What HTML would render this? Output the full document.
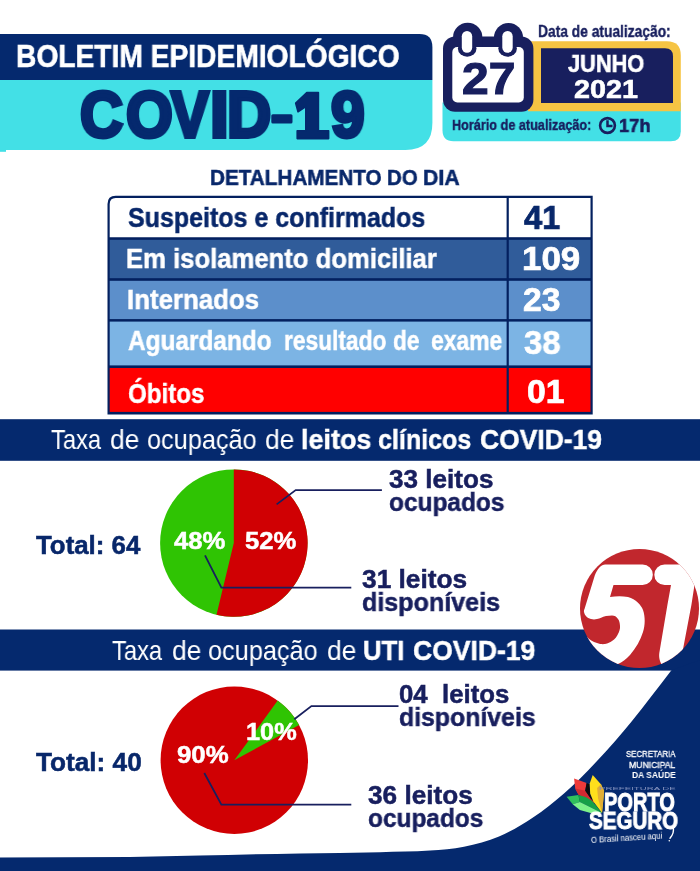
<!DOCTYPE html>
<html lang="pt-BR">
<head>
<meta charset="utf-8">
<title>Boletim Epidemiológico COVID-19</title>
<style>
html,body{margin:0;padding:0;background:#fff;}
body{width:700px;height:871px;position:relative;overflow:hidden;font-family:"Liberation Sans",sans-serif;}
#gfx{position:absolute;left:0;top:0;width:700px;height:871px;display:block;}
.t{position:absolute;white-space:nowrap;line-height:1;transform-origin:0 50%;font-family:"Liberation Sans",sans-serif;will-change:transform;}
</style>
</head>
<body>
<svg id="gfx" width="700" height="871" viewBox="0 0 700 871">
<defs>
<clipPath id="c51"><circle cx="639.5" cy="608.5" r="59.5"/></clipPath>
</defs>
<!-- header banner -->
<path d="M0 34 H419.5 Q432.4 34 432.4 47 V80 H0 Z" fill="#05296e"/>
<path d="M0 80 H432.4 V123 Q432.4 150 405.5 150 H0 Z" fill="#43e0e6"/>
<!-- COVID-19 dash and one -->
<rect x="271.3" y="114.2" width="21.2" height="9.4" rx="1.5" ry="1.5" fill="#05296e"/>
<path d="M318.4 92.5 L306.8 92.5 L295.7 103.2 L298 111.8 L305.8 106.5 L305.8 130.8 L297.2 130.8 L297.2 138.6 L328.6 138.6 L328.6 130.8 L318.4 130.8 Z" fill="#05296e" stroke="#05296e" stroke-width="1.6" stroke-linejoin="round"/>
<rect x="0" y="149" width="6" height="2.8" fill="#43e0e6"/>
<!-- date widget -->
<path d="M442.5 102.5 H680.8 V131.2 Q680.8 141.2 670.8 141.2 H453.5 Q442.5 141.2 442.5 130.2 Z" fill="#43e0e6"/>
<path d="M528 41.3 H666.8 Q680.8 41.3 680.8 55.3 V111.3 H528 Z" fill="#f6c443"/>
<path d="M541 48.2 H665 Q673 48.2 673 56.2 V102.9 H541 Z" fill="#181f5e"/>
<!-- calendar -->
<g fill="#181f5e">
<rect x="443" y="36.6" width="90.4" height="75.2" rx="12" ry="12"/>
<path d="M453 47 V37.5 A14.7 14.7 0 0 1 482.4 37.5 V47 Z"/>
<path d="M494 47 V37.5 A14.5 14.5 0 0 1 523 37.5 V47 Z"/>
</g>
<rect x="452.3" y="47" width="71.5" height="55.5" rx="5" ry="5" fill="#fff"/>
<g fill="#181f5e">
<rect x="457.9" y="40" width="18.6" height="16.8" rx="9.3" ry="8.4"/>
<rect x="498.3" y="40" width="18.6" height="16.8" rx="9.3" ry="8.4"/>
</g>
<g fill="#fff">
<rect x="461.8" y="31" width="10.4" height="21.8" rx="5.2" ry="5.2"/>
<rect x="502.3" y="31" width="10.4" height="21.8" rx="5.2" ry="5.2"/>
</g>
<!-- clock -->
<circle cx="607.5" cy="125.5" r="7.4" fill="none" stroke="#181f5e" stroke-width="2.6"/>
<path d="M607.5 120.3 V126 H612.5" fill="none" stroke="#181f5e" stroke-width="2.5"/>
<!-- table -->
<path d="M107.5 204 Q107.5 195.8 115.7 195.8 H592.7 V414.4 H107.5 Z" fill="#03205f"/>
<path d="M109.7 204 Q109.7 198 115.7 198 H506.6 V237.2 H109.7 Z" fill="#fff"/>
<rect x="508.8" y="198" width="81.7" height="39.2" fill="#fff"/>
<rect x="109.7" y="239.8" width="396.9" height="38.4" fill="#305c9a"/>
<rect x="508.8" y="239.8" width="81.7" height="38.4" fill="#305c9a"/>
<rect x="109.7" y="280.8" width="396.9" height="38.3" fill="#5c8fcb"/>
<rect x="508.8" y="280.8" width="81.7" height="38.3" fill="#5c8fcb"/>
<rect x="109.7" y="321.6" width="396.9" height="43.8" fill="#7cb4e4"/>
<rect x="508.8" y="321.6" width="81.7" height="43.8" fill="#7cb4e4"/>
<rect x="109.7" y="368" width="396.9" height="43.9" fill="#ff0000"/>
<rect x="508.8" y="368" width="81.7" height="43.9" fill="#ff0000"/>
<!-- band 1 -->
<rect x="0" y="419.2" width="700" height="41.6" fill="#05296e"/>
<!-- pie 1 -->
<circle cx="233.8" cy="543.1" r="73.7" fill="#2fc403"/>
<path d="M233.8 543.1 V469.4 A73.7 73.7 0 1 1 216.5 614.7 Z" fill="#d00003"/>
<path d="M276.6 504.4 L295.7 490.1 H381.9" fill="none" stroke="#181f5e" stroke-width="1.8"/>
<path d="M205 555.4 L221.4 587.7 H351.3" fill="none" stroke="#181f5e" stroke-width="1.8"/>
<!-- band 2 + swoosh -->
<rect x="0" y="629.5" width="700" height="41.1" fill="#05296e"/>
<path d="M700 660 L671.4 670.3 C658.1 687.4 645.2 704.9 631.4 721.7 C620.4 735.2 608.9 748.3 597.0 761.0 C586.4 772.3 575.6 783.3 564.0 793.5 C554.2 802.1 543.9 810.3 533.0 817.5 C522.2 824.7 511.0 831.4 499.0 836.5 C487.8 841.3 475.9 844.4 464.0 846.8 C452.8 849.1 441.4 849.9 430.0 850.6 C413.4 851.7 396.7 851.8 380.0 852.2 C353.3 852.8 326.7 852.9 300.0 853.4 C266.7 854.0 233.3 854.9 200.0 855.6 C176.7 856.1 153.3 856.8 130.0 857.0 C86.7 857.4 43.3 857.3 0.0 857.4 V871 H700 Z" fill="#05296e"/>
<!-- 51 logo -->
<circle cx="639.5" cy="608.5" r="59.5" fill="#c1272d"/>
<g clip-path="url(#c51)" fill="#fff">
<path d="M605 564.5 L642.6 564.5 A10.25 10.25 0 0 1 642.6 585 L613.5 585 L610 597 C616 596 622 595.8 628 597 C636 599 641 605 643 610 C645.5 617 645 626 643 632 C640.5 640 636 648 630 655 C626 659.5 622 662 618 664 L610 680 L575 680 L575 637 L587 637 C589 639.5 593 642 597 643 C600 644.2 603 644.3 605 644 C608 643.3 610 642.3 612 641 C615 639 617 636.5 618 634 C619.5 631 620.3 628 620 626 C619.8 623 619.3 620.5 618 619 C616.5 616.5 614.5 615.5 612 615.5 C610 615.5 608 615.7 606 616 C602 617 600 618.5 597 619 C595 619.6 593 619.6 591 619 C587 618 584.5 615 584 612 C583.8 610.5 584 609.8 584.5 609 L594 578 C596 571.5 599 565.5 605 564.5 Z"/>
<path d="M664.6 564.4 L698 564.4 L694.4 585.4 L691.4 605 L683.3 647.8 L680 668 L664 668 C660.5 664 658.5 658 659.3 653 L667.4 605 L671 585 L664.6 585 A10.3 10.3 0 0 1 664.6 564.4 Z"/>
</g>
<!-- pie 2 -->
<circle cx="234.3" cy="760.2" r="73.7" fill="#d00003"/>
<path d="M234.3 760.2 L277.7 700.6 A73.7 73.7 0 0 1 299.1 725 Z" fill="#2fc403"/>
<path d="M294.3 719.3 L311.4 706.1 H398.5" fill="none" stroke="#181f5e" stroke-width="1.8"/>
<path d="M204.3 773 L221.4 804.6 H351.3" fill="none" stroke="#181f5e" stroke-width="1.8"/>
<!-- porto seguro leaves -->
<g>
<polygon points="574.1,778.6 586.6,782.9 585.2,790.7 590.6,798.6 595.6,803.6 578.4,794.6 575.2,788.6" fill="#ee3a3a"/>
<polygon points="575.2,788.6 585.2,790.7 590.6,798.6 595.6,803.6 578.4,794.6" fill="#d12a32"/>
<polygon points="586.6,783.0 589.6,784.3 590.0,793.6 592.4,799.6 595.6,803.6 590.6,798.6 585.2,790.7" fill="#0d0d0d"/>
<polygon points="592.7,775.0 600.9,784.3 604.1,790.7 603.3,800.0 602.0,812.9 593.4,801.4 590.2,793.6 589.7,783.6" fill="#ffdf1c"/>
<polygon points="600.9,784.3 604.1,790.7 603.3,800.0 602.0,812.9 598.1,798.6 597.1,787.9" fill="#e2ae35"/>
<polygon points="566.6,796.8 578.4,795.0 579.9,802.1 572.7,804.3" fill="#2fc05c"/>
<polygon points="578.4,795.0 585.6,797.1 592.0,800.7 602.0,812.9 579.9,802.1" fill="#16a048"/>
<polygon points="572.7,804.3 579.9,802.1 602.0,812.9 590.6,813.0 579.9,810.0" fill="#7df28a"/>
</g>
<path d="M673.2 827.5 C674 831 672.8 835 670 838.2" stroke="#fff" stroke-width="1.4" fill="none" stroke-linecap="round"/>
<circle cx="669.3" cy="840.8" r="0.8" fill="#fff"/>
</svg>

<div class="t" style="left:16.2px;top:41.1px;font-size:31px;font-weight:700;color:#fff;transform:scaleX(0.9093);-webkit-text-stroke:0.6px #fff;">BOLETIM EPIDEMIOLÓGICO</div>
<div class="t" style="left:80.1px;top:82.7px;font-size:64px;font-weight:700;color:#05296e;transform:scaleX(0.9283);-webkit-text-stroke:4px #05296e;">C</div>
<div class="t" style="left:126.1px;top:82.7px;font-size:64px;font-weight:700;color:#05296e;transform:scaleX(0.9375);-webkit-text-stroke:4px #05296e;">O</div>
<div class="t" style="left:170.8px;top:82.7px;font-size:64px;font-weight:700;color:#05296e;transform:scaleX(0.8851);-webkit-text-stroke:4px #05296e;">V</div>
<div class="t" style="left:210.2px;top:82.7px;font-size:64px;font-weight:700;color:#05296e;transform:scaleX(1.0538);-webkit-text-stroke:4px #05296e;">I</div>
<div class="t" style="left:226.7px;top:82.7px;font-size:64px;font-weight:700;color:#05296e;transform:scaleX(0.9558);-webkit-text-stroke:4px #05296e;">D</div>
<div class="t" style="left:331.2px;top:82.7px;font-size:64px;font-weight:700;color:#05296e;transform:scaleX(0.9457);-webkit-text-stroke:4px #05296e;">9</div>
<div class="t" style="left:537.5px;top:22.6px;font-size:17px;font-weight:700;color:#181f5e;transform:scaleX(0.8118);-webkit-text-stroke:0.4px #181f5e;">Data de atualização:</div>
<div class="t" style="left:461.7px;top:56.7px;font-size:44.5px;font-weight:700;color:#181f5e;transform:scaleX(1.0766);-webkit-text-stroke:1.2px #181f5e;">27</div>
<div class="t" style="left:568.2px;top:51.7px;font-size:24px;font-weight:700;color:#fff;transform:scaleX(0.9084);-webkit-text-stroke:0.6px #fff;">JUNHO</div>
<div class="t" style="left:574.2px;top:75.9px;font-size:26.5px;font-weight:700;color:#fff;transform:scaleX(1.0845);-webkit-text-stroke:0.6px #fff;">2021</div>
<div class="t" style="left:451.8px;top:117.2px;font-size:15.4px;font-weight:700;color:#181f5e;transform:scaleX(0.8228);-webkit-text-stroke:0.4px #181f5e;">Horário de atualização:</div>
<div class="t" style="left:619.4px;top:116.1px;font-size:19px;font-weight:700;color:#181f5e;transform:scaleX(0.9613);-webkit-text-stroke:0.6px #181f5e;">17h</div>
<div class="t" style="left:209.7px;top:167.3px;font-size:22.4px;font-weight:700;color:#08276a;transform:scaleX(0.9239);-webkit-text-stroke:0.5px #08276a;">DETALHAMENTO</div>
<div class="t" style="left:386.5px;top:167.3px;font-size:22.4px;font-weight:700;color:#08276a;transform:scaleX(0.9125);-webkit-text-stroke:0.5px #08276a;">DO</div>
<div class="t" style="left:423.4px;top:167.3px;font-size:22.4px;font-weight:700;color:#08276a;transform:scaleX(0.9486);-webkit-text-stroke:0.5px #08276a;">DIA</div>
<div class="t" style="left:127.5px;top:204.5px;font-size:27px;font-weight:700;color:#08276a;transform:scaleX(0.9260);-webkit-text-stroke:0.5px #08276a;">Suspeitos e confirmados</div>
<div class="t" style="left:125.6px;top:246.1px;font-size:27px;font-weight:700;color:#fff;transform:scaleX(0.9505);-webkit-text-stroke:0.5px #fff;">Em isolamento domiciliar</div>
<div class="t" style="left:127.3px;top:287.2px;font-size:27px;font-weight:700;color:#fff;transform:scaleX(0.9570);-webkit-text-stroke:0.5px #fff;">Internados</div>
<div class="t" style="left:127.7px;top:327.5px;font-size:27px;font-weight:700;color:#fff;transform:scaleX(0.9032);-webkit-text-stroke:0.5px #fff;">Aguardando</div>
<div class="t" style="left:284.3px;top:327.5px;font-size:27px;font-weight:700;color:#fff;transform:scaleX(0.8429);-webkit-text-stroke:0.5px #fff;">resultado</div>
<div class="t" style="left:393.2px;top:327.5px;font-size:27px;font-weight:700;color:#fff;transform:scaleX(0.8400);-webkit-text-stroke:0.5px #fff;">de</div>
<div class="t" style="left:431.2px;top:327.5px;font-size:27px;font-weight:700;color:#fff;transform:scaleX(0.8476);-webkit-text-stroke:0.5px #fff;">exame</div>
<div class="t" style="left:128.0px;top:381.3px;font-size:27px;font-weight:700;color:#fff;transform:scaleX(0.8940);-webkit-text-stroke:0.5px #fff;">Óbitos</div>
<div class="t" style="left:523.6px;top:200.7px;font-size:33px;font-weight:700;color:#08276a;transform:scaleX(0.9917);-webkit-text-stroke:0.7px #08276a;">41</div>
<div class="t" style="left:521.5px;top:242.3px;font-size:33px;font-weight:700;color:#fff;transform:scaleX(1.0577);-webkit-text-stroke:0.7px #fff;">109</div>
<div class="t" style="left:522.8px;top:282.9px;font-size:33px;font-weight:700;color:#fff;transform:scaleX(1.0200);-webkit-text-stroke:0.7px #fff;">23</div>
<div class="t" style="left:523.8px;top:325.8px;font-size:33.5px;font-weight:700;color:#fff;transform:scaleX(0.9784);-webkit-text-stroke:0.7px #fff;">38</div>
<div class="t" style="left:527.0px;top:374.9px;font-size:33px;font-weight:700;color:#fff;transform:scaleX(1.0229);-webkit-text-stroke:0.7px #fff;">01</div>
<div class="t" style="left:50.6px;top:426.3px;font-size:28px;font-weight:400;color:#fff;transform:scaleX(0.8483);">Taxa</div>
<div class="t" style="left:110.0px;top:426.3px;font-size:28px;font-weight:400;color:#fff;transform:scaleX(0.9448);">de</div>
<div class="t" style="left:146.5px;top:426.3px;font-size:28px;font-weight:400;color:#fff;transform:scaleX(0.9034);">ocupação</div>
<div class="t" style="left:265.4px;top:426.3px;font-size:28px;font-weight:400;color:#fff;transform:scaleX(0.9448);">de</div>
<div class="t" style="left:301.0px;top:426.3px;font-size:28px;font-weight:700;color:#fff;transform:scaleX(0.9629);-webkit-text-stroke:0.5px #fff;">leitos</div>
<div class="t" style="left:378.4px;top:426.3px;font-size:28px;font-weight:700;color:#fff;transform:scaleX(0.8942);-webkit-text-stroke:0.5px #fff;">clínicos</div>
<div class="t" style="left:479.8px;top:426.3px;font-size:28px;font-weight:700;color:#fff;transform:scaleX(0.9449);-webkit-text-stroke:0.5px #fff;">COVID-19</div>
<div class="t" style="left:36.0px;top:533.4px;font-size:25.7px;font-weight:700;color:#08276a;transform:scaleX(1.0058);-webkit-text-stroke:0.5px #08276a;">Total: 64</div>
<div class="t" style="left:174.3px;top:528.9px;font-size:24.5px;font-weight:700;color:#fff;transform:scaleX(1.0490);-webkit-text-stroke:0.5px #fff;">48%</div>
<div class="t" style="left:245.3px;top:528.9px;font-size:24.5px;font-weight:700;color:#fff;transform:scaleX(1.0479);-webkit-text-stroke:0.5px #fff;">52%</div>
<div class="t" style="left:389.0px;top:466.8px;font-size:25.7px;font-weight:700;color:#181f5e;transform:scaleX(1.0158);-webkit-text-stroke:0.5px #181f5e;">33 leitos</div>
<div class="t" style="left:389.0px;top:490.4px;font-size:25.7px;font-weight:700;color:#181f5e;transform:scaleX(0.9517);-webkit-text-stroke:0.5px #181f5e;">ocupados</div>
<div class="t" style="left:361.6px;top:567.4px;font-size:25.7px;font-weight:700;color:#181f5e;transform:scaleX(1.0238);-webkit-text-stroke:0.5px #181f5e;">31 leitos</div>
<div class="t" style="left:361.6px;top:590.4px;font-size:25.7px;font-weight:700;color:#181f5e;transform:scaleX(0.9771);-webkit-text-stroke:0.5px #181f5e;">disponíveis</div>
<div class="t" style="left:112.2px;top:637.0px;font-size:28px;font-weight:400;color:#fff;transform:scaleX(0.8483);">Taxa</div>
<div class="t" style="left:171.6px;top:637.0px;font-size:28px;font-weight:400;color:#fff;transform:scaleX(0.9448);">de</div>
<div class="t" style="left:208.1px;top:637.0px;font-size:28px;font-weight:400;color:#fff;transform:scaleX(0.9034);">ocupação</div>
<div class="t" style="left:327.0px;top:637.0px;font-size:28px;font-weight:400;color:#fff;transform:scaleX(0.9448);">de</div>
<div class="t" style="left:363.4px;top:637.0px;font-size:28px;font-weight:700;color:#fff;transform:scaleX(0.9163);-webkit-text-stroke:0.5px #fff;">UTI</div>
<div class="t" style="left:413.1px;top:637.0px;font-size:28px;font-weight:700;color:#fff;transform:scaleX(0.9472);-webkit-text-stroke:0.5px #fff;">COVID-19</div>
<div class="t" style="left:36.0px;top:749.8px;font-size:25.7px;font-weight:700;color:#08276a;transform:scaleX(1.0194);-webkit-text-stroke:0.5px #08276a;">Total: 40</div>
<div class="t" style="left:246.0px;top:720.3px;font-size:24.5px;font-weight:700;color:#fff;transform:scaleX(1.0333);-webkit-text-stroke:0.5px #fff;">10%</div>
<div class="t" style="left:176.5px;top:742.5px;font-size:24.5px;font-weight:700;color:#fff;transform:scaleX(1.0542);-webkit-text-stroke:0.5px #fff;">90%</div>
<div class="t" style="left:398.6px;top:682.4px;font-size:25.7px;font-weight:700;color:#181f5e;transform:scaleX(1.0037);-webkit-text-stroke:0.5px #181f5e;">04&nbsp; leitos</div>
<div class="t" style="left:398.6px;top:705.4px;font-size:25.7px;font-weight:700;color:#181f5e;transform:scaleX(0.9671);-webkit-text-stroke:0.5px #181f5e;">disponíveis</div>
<div class="t" style="left:367.7px;top:783.2px;font-size:25.7px;font-weight:700;color:#181f5e;transform:scaleX(1.0188);-webkit-text-stroke:0.5px #181f5e;">36 leitos</div>
<div class="t" style="left:367.7px;top:805.9px;font-size:25.7px;font-weight:700;color:#181f5e;transform:scaleX(0.9508);-webkit-text-stroke:0.5px #181f5e;">ocupados</div>
<div class="t" style="left:626.2px;top:749.8px;font-size:8.8px;font-weight:400;color:#fff;transform:scaleX(0.8893);-webkit-text-stroke:0.3px #fff;">SECRETARIA</div>
<div class="t" style="left:629.4px;top:760.6px;font-size:8.8px;font-weight:400;color:#fff;transform:scaleX(0.9826);-webkit-text-stroke:0.3px #fff;">MUNICIPAL</div>
<div class="t" style="left:631.6px;top:771.1px;font-size:8.8px;font-weight:700;color:#fff;transform:scaleX(0.9614);">DA SAÚDE</div>
<div class="t" style="left:603.8px;top:790.4px;font-size:25.5px;font-weight:700;color:#fff;transform:scaleX(0.7865);-webkit-text-stroke:1px #fff;">PORTO</div>
<div class="t" style="left:588.6px;top:810.4px;font-size:23.2px;font-weight:700;color:#fff;transform:scaleX(0.8860);-webkit-text-stroke:1px #fff;">SEGURO</div>
<div class="t" style="left:598.6px;top:786.7px;font-size:4.4px;font-weight:400;color:#8492bd;transform:scaleX(2.1967);">PREFEITURA DE</div>
<div class="t" style="left:590.7px;top:835.9px;font-size:8.6px;font-weight:400;color:#fff;transform:rotate(-3.5deg) scaleX(0.9000);">O Brasil nasceu aqui</div>
</body>
</html>
